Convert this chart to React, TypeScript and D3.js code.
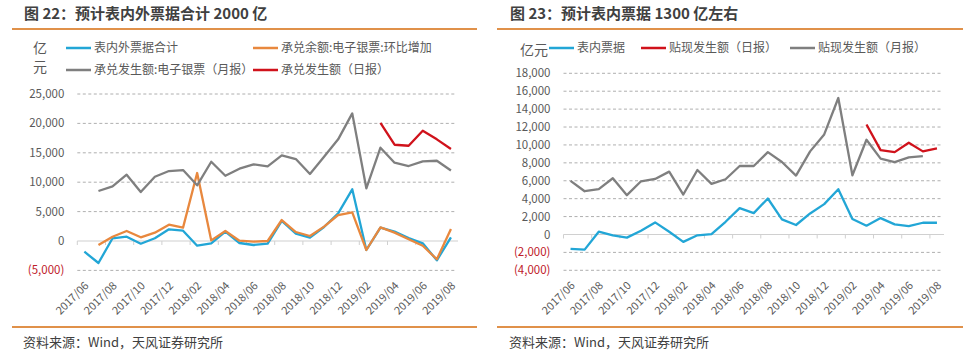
import React from "react";
import * as d3 from "d3";

// ---------- data ----------
const months = [
  "2017/06", "2017/07", "2017/08", "2017/09", "2017/10", "2017/11", "2017/12",
  "2018/01", "2018/02", "2018/03", "2018/04", "2018/05", "2018/06", "2018/07",
  "2018/08", "2018/09", "2018/10", "2018/11", "2018/12", "2019/01", "2019/02",
  "2019/03", "2019/04", "2019/05", "2019/06", "2019/07", "2019/08",
];
const tickLabels = months.filter((_, i) => i % 2 === 0);

// Figure 22
const leftTotal = [
  -1820, -3740, 460, 730, -460, 460, 1990, 1750, -800, -400, 1580, -340, -680, -460,
  3400, 1250, 570, 2380, 4700, 8790, -1530, 2270, 1590, 510, -400, -3290, 630,
];
const leftBalanceChange = [
  null, -680, 730, 1700, 630, 1420, 2780, 2270, 11560, 100, 1700, 50, -100, 0,
  3570, 1530, 850, 2440, 4420, 4880, -1530, 2330, 1420, 290, -800, -3110, 2040,
];
const leftMonthly = [
  null, 8500, 9300, 11270, 8330, 10930, 11900, 12070, 9470, 13480, 11100, 12300, 13030, 12700,
  14570, 13940, 11390, 14330, 17290, 21700, 8960, 15870, 13320, 12750, 13540, 13650, 12000,
];
const leftDaily = [
  null, null, null, null, null, null, null, null, null, null, null, null, null, null,
  null, null, null, null, null, null, null, 20100, 16370, 16200, 18750, 17290, 15640,
];
const leftTicks = [-5000, 0, 5000, 10000, 15000, 20000, 25000];

// Figure 23
const rightOnBalance = [
  -1610, -1690, 310, -100, -350, 420, 1350, 310, -830, -90, 50, 1420, 2940, 2390,
  4020, 1690, 1060, 2350, 3390, 5060, 1720, 980, 1830, 1130, 940, 1310, 1310,
];
const rightDaily = [
  null, null, null, null, null, null, null, null, null, null, null, null, null, null,
  null, null, null, null, null, null, null, 12280, 9420, 9200, 10240, 9280, 9610,
];
const rightMonthly = [
  5980, 4830, 5060, 6280, 4390, 5940, 6200, 7020, 4460, 7200, 5650, 6170, 7650, 7650,
  9200, 8090, 6580, 9280, 11170, 15240, 6610, 10580, 8470, 8090, 8610, 8760, null,
];
const rightTicks = [-4000, -2000, 0, 2000, 4000, 6000, 8000, 10000, 12000, 14000, 16000, 18000];

// ---------- styles ----------
const CYAN = "#22a6d6";
const ORANGE = "#e8883e";
const GRAY = "#7f7f7f";
const RED = "#d0121b";
const RULE = "#e0914a";
const TEXT = "#404040";
const AXIS_TEXT = "#595959";
const NEG = "#c0202a";
const FONT = "'Noto Sans CJK SC', 'Noto Sans', sans-serif";

type Series = { values: (number | null)[]; color: string };

function fmt(v: number) {
  const s = d3.format(",")(Math.abs(v));
  return v < 0 ? `(${s})` : s;
}

function Panel(props: {
  ox: number;
  plotL: number;
  plotR: number;
  yDomain: [number, number];
  yRange: [number, number];
  ticks: number[];
  series: Series[];
  labelEndX: number;
}) {
  const { plotL, plotR, yDomain, yRange, ticks, series } = props;
  const x = d3.scaleBand<string>().domain(months).range([plotL, plotR]);
  const bw = x.bandwidth();
  const cx = (m: string) => (x(m) as number) + bw / 2;
  const y = d3.scaleLinear().domain(yDomain).range(yRange);
  const line = d3
    .line<number | null>()
    .defined((d) => d !== null)
    .x((_, i) => cx(months[i]))
    .y((d) => y(d as number));
  const y0 = y(0);
  const tickXs = d3.range(0, months.length + 1, 2).map((i) => plotL + i * bw);
  const labelY = yRange[0] + 16;
  return (
    <g>
      {ticks
        .filter((t) => t !== 0)
        .map((t) => (
          <line
            key={"g" + t}
            x1={plotL}
            x2={plotR - 2}
            y1={y(t)}
            y2={y(t)}
            stroke="#9a9a9a"
            strokeWidth={0.8}
            strokeDasharray="3,2.5"
          />
        ))}
      <line x1={plotL} x2={plotR} y1={y0} y2={y0} stroke="#d0d0d0" strokeWidth={1.2} />
      {tickXs.map((tx, i) => (
        <line key={"t" + i} x1={tx} x2={tx} y1={y0} y2={y0 + 4} stroke="#d0d0d0" strokeWidth={1} />
      ))}
      {ticks.map((t) => (
        <text
          key={"l" + t}
          x={plotL - 13}
          y={y(t)}
          dy="0.35em"
          textAnchor="end"
          fontSize={11.5}
          fontFamily={FONT}
          fill={t < 0 ? NEG : AXIS_TEXT}
        >
          {fmt(t)}
        </text>
      ))}
      {tickLabels.map((m) => (
        <text
          key={"x" + m}
          transform={`translate(${cx(m) + props.labelEndX},${labelY}) rotate(-45)`}
          textAnchor="end"
          fontSize={11}
          fontFamily={FONT}
          fill={AXIS_TEXT}
        >
          {m}
        </text>
      ))}
      {series.map((s, i) => (
        <path
          key={"s" + i}
          d={line(s.values) || ""}
          fill="none"
          stroke={s.color}
          strokeWidth={2.3}
          strokeLinejoin="round"
        />
      ))}
    </g>
  );
}

function LegendItem(props: { x: number; y: number; color: string; label: string }) {
  return (
    <g>
      <line x1={props.x} x2={props.x + 25} y1={props.y} y2={props.y} stroke={props.color} strokeWidth={2.5} />
      <text x={props.x + 28} y={props.y} dy="0.35em" fontSize={12} fontFamily={FONT} fill={AXIS_TEXT}>
        {props.label}
      </text>
    </g>
  );
}

export default function App() {
  return (
    <svg
      width={980}
      height={356}
      viewBox="0 0 980 356"
      style={{ position: "absolute", left: 0, top: 0, background: "#fff" }}
    >
      <rect width={980} height={356} fill="#fff" />
      {/* Left panel */}
      <text x={24} y={19} fontSize={15} fontWeight="bold" fontFamily={FONT} fill={TEXT}>
        图 22：预计表内外票据合计 2000 亿
      </text>
      <line x1={12} x2={477} y1={29} y2={29} stroke={RULE} strokeWidth={2} />
      <text x={33} y={48} dy="0.35em" fontSize={14} fontFamily={FONT} fill={AXIS_TEXT}>亿</text>
      <text x={33} y={67} dy="0.35em" fontSize={14} fontFamily={FONT} fill={AXIS_TEXT}>元</text>
      <LegendItem x={66} y={48} color={CYAN} label="表内外票据合计" />
      <LegendItem x={253} y={48} color={ORANGE} label="承兑余额:电子银票:环比增加" />
      <LegendItem x={66} y={70} color={GRAY} label="承兑发生额:电子银票（月报）" />
      <LegendItem x={253} y={70} color={RED} label="承兑发生额（日报）" />
      <Panel
        ox={0}
        plotL={77.3}
        plotR={458}
        yDomain={[-5000, 25000]}
        yRange={[270.4, 94]}
        ticks={leftTicks}
        labelEndX={5}
        series={[
          { values: leftTotal, color: CYAN },
          { values: leftBalanceChange, color: ORANGE },
          { values: leftMonthly, color: GRAY },
          { values: leftDaily, color: RED },
        ]}
      />
      <line x1={12} x2={477} y1={327} y2={327} stroke={RULE} strokeWidth={2} />
      <text x={23} y={347} fontSize={13} fontFamily={FONT} fill={TEXT}>
        资料来源：Wind，天风证券研究所
      </text>

      {/* Right panel */}
      <text x={510} y={19} fontSize={15} fontWeight="bold" fontFamily={FONT} fill={TEXT}>
        图 23：预计表内票据 1300 亿左右
      </text>
      <line x1={497} x2={963} y1={29} y2={29} stroke={RULE} strokeWidth={2} />
      <text x={520} y={50} dy="0.35em" fontSize={14} fontFamily={FONT} fill={AXIS_TEXT}>亿元</text>
      <LegendItem x={549} y={48} color={CYAN} label="表内票据" />
      <LegendItem x={641} y={48} color={RED} label="贴现发生额（日报）" />
      <LegendItem x={790} y={48} color={GRAY} label="贴现发生额（月报）" />
      <Panel
        ox={490}
        plotL={563.5}
        plotR={944}
        yDomain={[-4000, 18000]}
        yRange={[270.3, 73.3]}
        ticks={rightTicks}
        labelEndX={5}
        series={[
          { values: rightOnBalance, color: CYAN },
          { values: rightDaily, color: RED },
          { values: rightMonthly, color: GRAY },
        ]}
      />
      <line x1={497} x2={963} y1={327} y2={327} stroke={RULE} strokeWidth={2} />
      <text x={509} y={347} fontSize={13} fontFamily={FONT} fill={TEXT}>
        资料来源：Wind，天风证券研究所
      </text>
    </svg>
  );
}
